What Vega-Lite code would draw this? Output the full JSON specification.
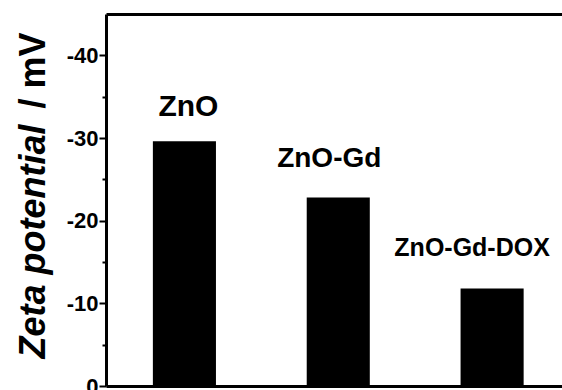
{
  "$schema": "https://vega.github.io/schema/vega-lite/v6.json",
  "autosize": "none",
  "padding": {"left": 106, "top": 14, "right": 0, "bottom": 4},
  "width": 456,
  "height": 372,
  "background": "white",
  "config": {
    "view": {"stroke": null},
    "font": "Liberation Sans",
    "axis": {"domainColor": "black", "tickColor": "black", "labelColor": "black", "titleColor": "black", "grid": false}
  },
  "data": {
    "values": [
      {"sample": "ZnO", "zeta": -29.6},
      {"sample": "ZnO-Gd", "zeta": -22.8},
      {"sample": "ZnO-Gd-DOX", "zeta": -11.8}
    ]
  },
  "resolve": {"axis": {"x": "independent", "y": "independent"}},
  "layer": [
    {
      "mark": {"type": "bar", "color": "black"},
      "encoding": {
        "x": {
          "field": "sample", "type": "nominal", "sort": null,
          "scale": {"paddingInner": 0.59, "paddingOuter": 0.277, "align": 0.55},
          "axis": {"orient": "bottom", "labels": false, "ticks": false, "title": null, "domainWidth": 3}
        },
        "y": {
          "field": "zeta", "type": "quantitative",
          "scale": {"domain": [0, -45], "nice": false},
          "axis": {
            "orient": "left",
            "values": [0, -10, -20, -30, -40],
            "labelExpr": "datum.value + ''",
            "labelFontSize": 22, "labelFontWeight": "bold", "labelPadding": 1,
            "tickSize": 7, "tickWidth": 2, "domainWidth": 3,
            "title": "Zeta potential",
            "titleFontSize": 36, "titleFontWeight": "bold", "titleFontStyle": "italic",
            "titleAngle": -90, "titleAlign": "left", "titleBaseline": "alphabetic",
            "titleX": -62, "titleY": 344
          }
        }
      }
    },
    {
      "transform": [{"filter": "datum.sample == 'ZnO'"}],
      "mark": {"type": "text", "fontSize": 30, "fontWeight": "bold", "baseline": "alphabetic", "dx": 4, "dy": -25, "color": "black"},
      "encoding": {
        "x": {
          "field": "sample", "type": "nominal", "sort": null,
          "axis": {"orient": "top", "labels": false, "ticks": false, "title": null, "domainWidth": 3}
        },
        "y": {
          "field": "zeta", "type": "quantitative",
          "axis": {
            "orient": "left",
            "values": [-5, -15, -25, -35],
            "labels": false, "domain": false,
            "tickSize": 4, "tickWidth": 2,
            "title": "/ mV",
            "titleFontSize": 36, "titleFontWeight": "bold", "titleFontStyle": "normal",
            "titleAngle": -90, "titleAlign": "left", "titleBaseline": "alphabetic",
            "titleX": -62, "titleY": 94
          }
        },
        "text": {"field": "sample"}
      }
    },
    {
      "transform": [{"filter": "datum.sample == 'ZnO-Gd'"}],
      "mark": {"type": "text", "fontSize": 28, "fontWeight": "bold", "baseline": "alphabetic", "dx": -9, "dy": -31, "color": "black"},
      "encoding": {
        "x": {"field": "sample", "type": "nominal", "sort": null, "axis": null},
        "y": {"field": "zeta", "type": "quantitative", "axis": null},
        "text": {"field": "sample"}
      }
    },
    {
      "transform": [{"filter": "datum.sample == 'ZnO-Gd-DOX'"}],
      "mark": {"type": "text", "fontSize": 25, "fontWeight": "bold", "baseline": "alphabetic", "dx": -20, "dy": -32, "color": "black"},
      "encoding": {
        "x": {"field": "sample", "type": "nominal", "sort": null, "axis": null},
        "y": {"field": "zeta", "type": "quantitative", "axis": null},
        "text": {"field": "sample"}
      }
    }
  ]
}
